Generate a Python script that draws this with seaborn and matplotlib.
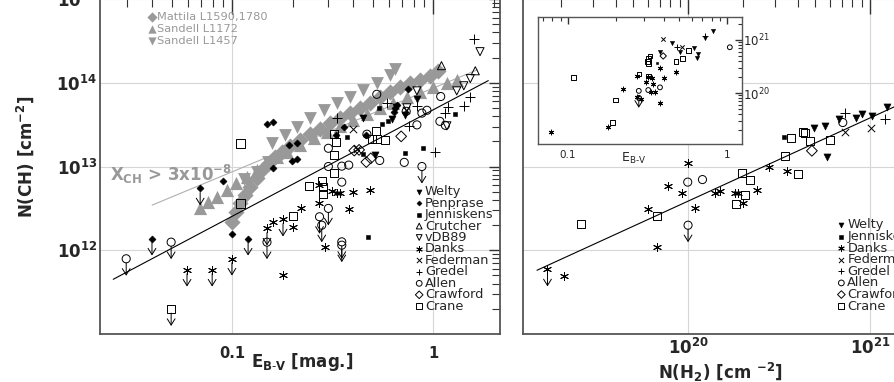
import numpy as np
import pandas as pd
import matplotlib
matplotlib.use('Agg')
import matplotlib.pyplot as plt
import matplotlib.ticker as mticker
import matplotlib.transforms as mtransforms
import seaborn as sns

sns.set_style('white')
plt.rcParams['font.family'] = ['DejaVu Sans']
plt.rcParams['mathtext.fontset'] = 'dejavusans'

GRAY = '#999999'

# ---- left panel: E(B-V) vs N(CH) ----
mattila_e = [0.100, 0.105, 0.110, 0.116, 0.123, 0.133, 0.141, 0.152, 0.164, 0.177, 0.194, 0.218, 0.245,
             0.274, 0.307, 0.344, 0.386, 0.434, 0.486, 0.545, 0.611, 0.686, 0.769, 0.861, 0.967, 1.06]
mattila_n = [2.16e12, 2.85e12, 3.62e12, 4.56e12, 5.73e12, 7.22e12, 9.08e12, 1.09e13, 1.31e13, 1.50e13,
             1.77e13, 2.08e13, 2.43e13, 2.81e13, 3.29e13, 3.78e13, 4.34e13, 4.98e13, 5.71e13, 6.67e13,
             7.74e13, 8.79e13, 9.8e13, 1.09e14, 1.22e14, 1.37e14]
sandell1172_e = [0.0693, 0.0762, 0.0839, 0.0942, 0.105, 0.118, 0.133, 0.149, 0.167, 0.187, 0.218, 0.254,
                 0.296, 0.344, 0.401, 0.468, 0.545, 0.634, 0.740, 0.861, 1.00, 1.17, 1.31]
sandell1172_n = [3.21e12, 3.79e12, 4.35e12, 5.23e12, 6.29e12, 7.55e12, 9.08e12, 1.09e13, 1.31e13, 1.50e13,
                 1.81e13, 2.18e13, 2.61e13, 3.08e13, 3.60e13, 4.22e13, 4.98e13, 5.81e13, 6.67e13, 7.74e13,
                 8.79e13, 9.9e13, 1.09e14]
sandell1457_e = [0.114, 0.133, 0.151, 0.158, 0.184, 0.210, 0.245, 0.285, 0.332, 0.386, 0.450, 0.524, 0.611, 0.647]
sandell1457_n = [7.08e12, 8.59e12, 1.13e13, 1.90e13, 2.38e13, 3.00e13, 3.78e13, 4.75e13, 5.71e13, 6.85e13,
                 8.24e13, 9.9e13, 1.25e14, 1.47e14]

left = {
    'Welty': ([0.450, 0.623, 0.726, 0.830, 0.514, 0.655],
              [3.78e13, 3.66e13, 4.14e13, 6.38e13, 1.37e13, 5.16e13]),
    'Penprase': ([0.0899, 0.0997, 0.149, 0.159, 0.159, 0.191, 0.210, 0.199, 0.210, 0.328, 0.361, 0.462,
                  0.748, 0.659, 0.647, 0.640],
                 [6.76e12, 1.58e12, 3.23e13, 3.44e13, 9.69e12, 1.81e13, 1.90e13, 1.16e13, 1.23e13, 2.38e13,
                  3.00e13, 2.38e13, 8.41e13, 5.46e13, 4.98e13, 4.53e13]),
    'Jenniskens': ([0.535, 0.556, 0.597, 0.372, 0.450, 0.726, 0.895, 1.29, 0.473],
                   [4.98e13, 3.23e13, 3.51e13, 2.28e13, 1.42e13, 1.46e13, 1.65e13, 4.26e13, 1.42e12]),
    'Crutcher': ([1.10, 1.62], [1.60e14, 1.39e14]),
    'vDB89': ([1.71, 1.53, 1.42, 1.31, 1.17, 0.830, 0.740],
              [2.35e14, 1.12e14, 9.2e13, 8.0e13, 3.06e13, 8.0e13, 5.02e13]),
    'Danks': ([0.159, 0.200, 0.179, 0.220, 0.269, 0.290, 0.313, 0.333, 0.344, 0.401, 0.483, 0.382, 0.271],
              [2.18e12, 1.90e12, 5.02e11, 3.16e12, 3.71e12, 1.10e12, 5.10e12, 4.89e12, 4.89e12, 4.99e12,
               5.23e12, 3.07e12, 6.00e12]),
    'Federman': ([0.400, 0.419, 0.734], [2.81e13, 1.64e13, 4.75e13]),
    'Gredel': ([1.59, 1.53, 1.42, 1.19, 1.15, 1.02, 0.760, 0.589, 0.332, 0.830],
               [3.33e14, 6.67e13, 5.31e13, 5.20e13, 4.41e13, 1.48e13, 3.01e13, 5.75e13, 3.78e13, 5.35e13]),
    'Allen': ([0.524, 1.09, 0.931, 0.879, 0.830, 0.468, 0.301, 0.301, 0.351, 0.380, 0.351, 0.718, 0.542,
               1.08, 1.15, 0.734],
              [7.28e13, 6.85e13, 4.69e13, 4.34e13, 3.14e13, 2.43e13, 1.65e13, 1.00e13, 1.01e13, 1.04e13,
               6.51e12, 1.12e13, 1.18e13, 3.46e13, 3.10e13, 4.56e13]),
    'Crawford': ([0.693, 0.405, 0.465, 0.489, 0.428], [2.29e13, 1.55e13, 1.13e13, 1.25e13, 1.58e13]),
    'Crane': ([0.110, 0.320, 0.328, 0.321, 0.321, 0.240, 0.281, 0.282, 0.282, 0.201, 0.110, 0.520, 0.524,
               0.573, 0.496],
              [1.88e13, 2.45e13, 1.95e13, 1.36e13, 8.44e12, 5.92e12, 6.79e12, 5.69e12, 4.69e12, 2.55e12,
               3.62e12, 2.66e13, 2.12e13, 2.08e13, 2.13e13]),
}
# upper limits (drawn with an arrow)
left_ul = {
    'Penprase': ([0.0399, 0.0693, 0.120], [1.38e12, 5.48e12, 1.38e12]),
    'Danks': ([0.0596, 0.0795, 0.0997, 0.149, 0.179], [5.88e11, 5.88e11, 7.96e11, 1.82e12, 2.33e12]),
    'Allen': ([0.0297, 0.0497, 0.149, 0.301, 0.272, 0.279, 0.351, 0.351, 0.879],
              [7.91e11, 1.25e12, 1.25e12, 3.16e12, 2.51e12, 1.99e12, 1.26e12, 1.15e12, 1.00e13]),
    'Crane': ([0.0497], [1.99e11]),
}
fit_left_e = [0.0256, 1.88]
fit_left_n = [4.5e11, 1.06e14]
xch_e = [0.040, 1.66]
xch_n = [3.46e12, 1.43e14]

# ---- right panel: N(H2) vs N(CH) ----
right = {
    'Welty': ([4.89e20, 5.66e20, 6.78e20, 8.38e20, 9.01e20, 1.02e21, 1.24e21, 5.78e20],
              [2.86e13, 3.06e13, 3.67e13, 3.78e13, 4.26e13, 4.06e13, 5.20e13, 1.31e13]),
    'Jenniskens': ([3.38e20], [2.28e13]),
    'Danks': ([9.96e19, 7.76e19, 9.21e19, 1.40e20, 1.49e20, 1.81e20, 1.89e20, 2.39e20, 2.80e20, 3.48e20,
               2.00e20, 1.09e20, 6.05e19, 6.73e19, 2.09e19],
              [1.11e13, 5.83e12, 4.78e12, 4.85e12, 5.16e12, 4.82e12, 4.82e12, 5.23e12, 9.96e12, 8.91e12,
               3.68e12, 3.16e12, 3.07e12, 1.08e12, 4.92e11]),
    'Federman': ([7.29e20, 1.01e21], [2.57e13, 2.86e13]),
    'Gredel': ([7.29e20, 1.21e21], [4.34e13, 3.67e13]),
    'Allen': ([9.96e19, 1.20e20, 7.08e20], [6.51e12, 6.98e12, 3.35e13]),
    'Crawford': ([4.79e20], [1.54e13]),
    'Crane': ([3.67e20, 4.27e20, 4.39e20, 4.68e20, 6.03e20, 3.41e20, 4.01e20, 1.97e20, 2.19e20, 2.06e20,
               1.84e20, 6.73e19, 2.58e19],
              [2.18e13, 2.61e13, 2.50e13, 2.04e13, 2.08e13, 1.34e13, 8.13e12, 8.30e12, 6.89e12, 4.56e12,
               3.56e12, 2.55e12, 2.07e12]),
}
right_ul = {
    'Danks': ([1.69e19], [5.91e11]),
    'Allen': ([1.00e20], [1.99e12]),
}
fit_right_h = [1.48e19, 1.56e21]
fit_right_n = [5.77e11, 5.92e13]

# ---- inset: E(B-V) vs N(H2) ----
inset = {
    'Danks': ([0.0790, 0.179, 0.221, 0.270, 0.310, 0.320, 0.340, 0.341, 0.353, 0.333, 0.270, 0.288, 0.379,
               0.400, 0.378, 0.478],
              [1.86e19, 2.31e19, 1.17e20, 2.12e20, 1.62e20, 2.03e20, 1.92e20, 1.48e20, 1.06e20, 1.03e20,
               8.51e19, 7.71e19, 2.92e20, 1.89e20, 6.56e19, 2.52e20]),
    'Crane': ([0.109, 0.190, 0.200, 0.280, 0.320, 0.317, 0.320, 0.328, 0.320, 0.478, 0.524, 0.571],
              [1.95e20, 2.75e19, 7.38e19, 2.28e20, 4.52e20, 3.90e20, 3.61e20, 4.99e20, 2.10e20, 3.90e20,
               4.52e20, 6.28e20]),
    'Allen': ([0.279, 0.320, 0.379, 1.04], [1.10e20, 1.14e20, 1.28e20, 7.28e20]),
    'Welty': ([0.449, 0.506, 0.379, 0.620, 0.659, 0.644, 0.728, 0.821],
              [8.67e20, 6.01e20, 6.01e20, 7.16e20, 5.45e20, 4.52e20, 1.08e21, 1.50e21]),
    'Gredel': ([0.728, 0.483], [1.21e21, 7.48e20]),
    'Jenniskens': ([0.361], [3.63e20]),
    'Crawford': ([0.397], [4.99e20]),
    'Federman': ([0.397, 0.524], [1.03e21, 7.48e20]),
}
inset_ul = {'Allen': ([0.279], [8.15e19])}

left_legend = ['Welty', 'Penprase', 'Jenniskens', 'Crutcher', 'vDB89', 'Danks', 'Federman',
               'Gredel', 'Allen', 'Crawford', 'Crane']
right_legend = ['Welty', 'Jenniskens', 'Danks', 'Federman', 'Gredel', 'Allen', 'Crawford', 'Crane']
gray_labels = ['Mattila L1590,1780', 'Sandell L1172', 'Sandell L1457']

open_k = dict(color='k', facecolor='none', edgecolor='k', linewidth=0.7)
styles = {
    'Welty': dict(marker='v', s=26, color='k', edgecolor='k', linewidth=0.4),
    'Penprase': dict(marker='D', s=13, color='k', edgecolor='k', linewidth=0.4),
    'Jenniskens': dict(marker='s', s=10, color='k', edgecolor='k', linewidth=0.4),
    'Crutcher': dict(marker='^', s=34, **open_k),
    'vDB89': dict(marker='v', s=34, **open_k),
    'Danks': dict(marker=(6, 2, 0), s=34, color='k', linewidth=0.7),
    'Federman': dict(marker='x', s=28, color='k', linewidth=0.7),
    'Gredel': dict(marker='+', s=44, color='k', linewidth=0.7),
    'Allen': dict(marker='o', s=34, **open_k),
    'Crawford': dict(marker='D', s=30, **open_k),
    'Crane': dict(marker='s', s=34, **open_k),
}
gray_styles = [dict(marker='D', s=68, color=GRAY, edgecolor=GRAY, linewidth=0),
               dict(marker='^', s=90, color=GRAY, edgecolor=GRAY, linewidth=0),
               dict(marker='v', s=85, color=GRAY, edgecolor=GRAY, linewidth=0)]

fig = plt.figure(figsize=(8.94, 3.82), dpi=100)
ax1 = fig.add_axes([100 / 894, 48 / 382, 400 / 894, 335 / 382])
ax2 = fig.add_axes([523 / 894, 48 / 382, 394 / 894, 335 / 382])
ins = fig.add_axes([538 / 894, 238 / 382, 204 / 894, 127 / 382])
for ax in (ax1, ax2, ins):
    ax.set_xscale('log')
    ax.set_yscale('log')


def scat(ax, x, y, st, scale=1.0, z=3):
    kw = dict(st)
    kw['s'] = kw['s'] * scale
    sns.scatterplot(x=x, y=y, ax=ax, legend=False, zorder=z, **kw)


def upper_limits(ax, xs, ys, length_px=17, shrink=3.0):
    shift = mtransforms.ScaledTranslation(0, -length_px / 100, fig.dpi_scale_trans)
    for x, y in zip(xs, ys):
        ax.annotate('', xy=(x, y), xycoords=ax.transData + shift, xytext=(x, y), textcoords='data',
                    arrowprops=dict(arrowstyle='->,head_length=0.45,head_width=0.28', lw=0.7, color='k',
                                    shrinkA=shrink, shrinkB=0), zorder=3)


def draw_panel(ax, data, ul, scale=1.0, arrow=17, shrink=3.0):
    for name, (x, y) in data.items():
        scat(ax, x, y, styles[name], scale)
    for name, (x, y) in ul.items():
        scat(ax, x, y, styles[name], scale)
        upper_limits(ax, x, y, arrow, shrink)


def manual_legend(ax, names, mx, tx, top, step, fs=9.3):
    for i, name in enumerate(names):
        yy = top - i * step
        kw = dict(styles[name])
        kw['s'] = kw['s'] * 0.5
        ax.scatter([mx], [yy], transform=ax.transAxes, clip_on=False, zorder=5, **kw)
        ax.text(tx, yy, name, transform=ax.transAxes, fontsize=fs, va='center', ha='left')


def style_axes(ax, xmaj, xmin_len, ymaj, ymin_len):
    ax.tick_params(which='both', direction='in', top=True, right=True, color='#333333')
    ax.tick_params(axis='x', which='major', length=xmaj, width=1.0)
    ax.tick_params(axis='x', which='minor', length=xmin_len, width=0.8)
    ax.tick_params(axis='y', which='major', length=ymaj, width=1.0)
    ax.tick_params(axis='y', which='minor', length=ymin_len, width=0.8)
    for sp in ax.spines.values():
        sp.set_color('#555555')
        sp.set_linewidth(1.3)
    ax.xaxis.set_minor_locator(mticker.LogLocator(base=10, subs=np.arange(2, 10), numticks=30))
    ax.yaxis.set_minor_locator(mticker.LogLocator(base=10, subs=np.arange(2, 10), numticks=30))
    ax.xaxis.set_minor_formatter(mticker.NullFormatter())
    ax.yaxis.set_minor_formatter(mticker.NullFormatter())


def bold_pow(v, pos):
    return r'$\mathbf{10^{%d}}$' % round(np.log10(v))


# ---------- left panel ----------
for (x, y), st in zip([(mattila_e, mattila_n), (sandell1172_e, sandell1172_n), (sandell1457_e, sandell1457_n)],
                      gray_styles):
    scat(ax1, x, y, st, z=2)
sns.lineplot(x=xch_e, y=xch_n, ax=ax1, color='#b0b0b0', lw=0.8, zorder=1.5)
sns.lineplot(x=fit_left_e, y=fit_left_n, ax=ax1, color='k', lw=0.8, zorder=2.5)
draw_panel(ax1, left, left_ul)

ax1.set_xlim(0.022, 2.15)
ax1.set_ylim(1e11, 1e15)
style_axes(ax1, 11, 6, 8, 5.5)
ax1.set_xticks([0.1, 1])
ax1.set_xticklabels(['0.1', '1'], fontsize=10.5, fontweight='bold')
ax1.set_yticks([1e12, 1e13, 1e14, 1e15])
ax1.yaxis.set_major_formatter(mticker.FuncFormatter(bold_pow))
ax1.tick_params(axis='y', which='major', labelsize=12, pad=2)
ax1.tick_params(axis='x', which='major', pad=9)
ax1.grid(True, which='major', color='#d6d6d6', lw=0.8)
ax1.set_axisbelow(True)
ax1.set_ylabel(r'N(CH) [cm$^{\mathbf{-2}}$]', fontsize=12, fontweight='bold')
ax1.yaxis.set_label_coords(-0.16, 0.53)
ax1.set_xlabel(r'E$_{\mathbf{B\text{-}V}}$ [mag.]', fontsize=12, fontweight='bold')
ax1.xaxis.set_label_coords(0.505, -0.05)

for i, (lab, st) in enumerate(zip(gray_labels, gray_styles)):
    yy = 0.9454 - i * 0.0355
    kw = dict(st)
    kw['s'] = kw['s'] * 0.4
    ax1.scatter([0.129], [yy], transform=ax1.transAxes, clip_on=False, zorder=5, **kw)
    ax1.text(0.1425, yy, lab, transform=ax1.transAxes, fontsize=8.2, color=GRAY, va='center')
ax1.text(0.025, 0.457, r'X$_{\mathbf{CH}}$ > 3x10$^{\mathbf{-8}}$', transform=ax1.transAxes,
         fontsize=12, fontweight='bold', color=GRAY, va='baseline')
manual_legend(ax1, left_legend, 0.798, 0.812, 0.4248, 0.0342)

# ---------- right panel ----------
sns.lineplot(x=fit_right_h, y=fit_right_n, ax=ax2, color='k', lw=0.8, zorder=2.5)
draw_panel(ax2, right, right_ul)
ax2.set_xlim(1.24e19, 1.81e21)
ax2.set_ylim(1e11, 1e15)
style_axes(ax2, 11, 6, 8, 5.5)
ax2.set_xticks([1e20, 1e21])
ax2.xaxis.set_major_formatter(mticker.FuncFormatter(bold_pow))
ax2.tick_params(axis='x', which='major', labelsize=12, pad=3)
ax2.set_yticks([1e12, 1e13, 1e14, 1e15])
ax2.tick_params(axis='y', which='both', labelleft=False)
ax2.grid(True, which='major', color='#d6d6d6', lw=0.8)
ax2.set_axisbelow(True)
ax2.set_xlabel(r'N(H$_{\mathbf{2}}$) [cm $^{\mathbf{-2}}$]', fontsize=12, fontweight='bold')
ax2.xaxis.set_label_coords(0.5, -0.08)
manual_legend(ax2, right_legend, 0.808, 0.823, 0.3254, 0.0346)

# ---------- inset ----------
ins.set_facecolor('white')
draw_panel(ins, inset, inset_ul, scale=0.35, arrow=10, shrink=1.5)
ins.set_xlim(0.065, 1.24)
ins.set_ylim(1.1e19, 2.7e21)
style_axes(ins, 5, 3, 5, 3)
ins.set_xticks([0.1, 1])
ins.set_xticklabels(['0.1', '1'], fontsize=7.5)
ins.set_yticks([1e20, 1e21])
ins.yaxis.set_major_formatter(mticker.FuncFormatter(lambda v, p: r'$10^{%d}$' % round(np.log10(v))))
ins.tick_params(axis='y', which='major', labelleft=False, labelright=True, labelsize=8.5, pad=1)
ins.tick_params(axis='x', which='major', pad=4)
for sp in ins.spines.values():
    sp.set_linewidth(1.0)
ins.text(0.466, -0.11, r'E$_{\mathrm{B\text{-}V}}$', transform=ins.transAxes, fontsize=9,
         ha='center', va='center')

fig.savefig('out.png', dpi=100)
